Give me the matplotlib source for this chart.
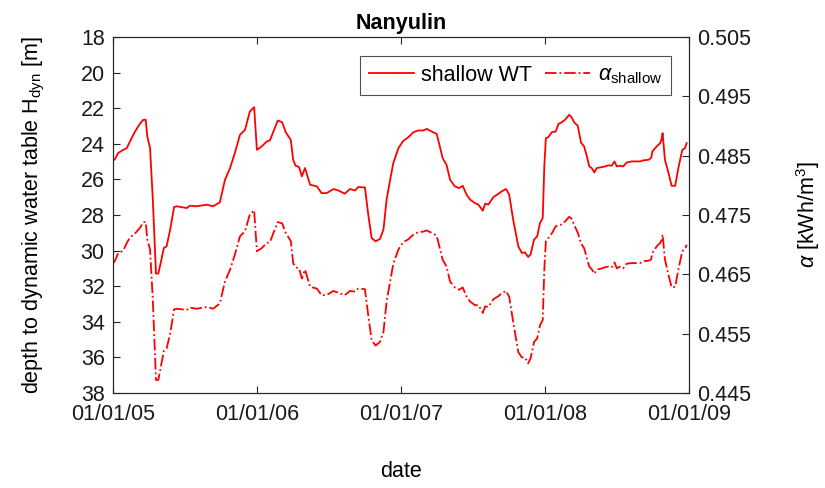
import matplotlib
matplotlib.use('Agg')
import matplotlib.pyplot as plt
import matplotlib.dates as mdates
import numpy as np
import pandas as pd

plt.rcParams['font.family'] = ['Liberation Sans', 'DejaVu Sans']
plt.rcParams['mathtext.fontset'] = 'custom'
plt.rcParams['mathtext.rm'] = 'Liberation Sans'
plt.rcParams['mathtext.it'] = 'Liberation Sans:italic'

# days since 01/01/05
days = [0, 5, 13, 26, 35, 43, 56, 68, 77, 83, 87, 94, 101, 109, 115, 121, 129, 136, 145, 155,
        162, 187, 195, 212, 238, 254, 271, 284, 297, 309, 322, 335, 347, 358, 365, 377, 390, 398,
        407, 418, 429, 438, 451, 457, 463, 472, 479, 487, 500, 517, 529, 542, 559, 571, 588, 601,
        614, 622, 639, 648, 656, 666, 677, 686, 694, 703, 711, 724, 736, 749, 762, 774, 787, 796,
        808, 821, 829, 836, 846, 855, 867, 878, 887, 897, 906, 918, 927, 938, 944, 952, 965, 977,
        986, 997, 1005, 1015, 1028, 1037, 1045, 1053, 1059, 1068, 1076, 1083, 1090, 1094, 1098,
        1104, 1113, 1123, 1130, 1138, 1148, 1157, 1163, 1170, 1179, 1187, 1195, 1202, 1208, 1214,
        1221, 1227, 1240, 1248, 1256, 1265, 1272, 1278, 1286, 1294, 1303, 1316, 1337, 1345, 1358,
        1365, 1368, 1379, 1388, 1392, 1394, 1400, 1409, 1417, 1426, 1434, 1444, 1451, 1455]

# depth to dynamic water table [m]
depth = [24.95, 24.86, 24.52, 24.34, 24.24, 23.87, 23.31, 22.88, 22.65, 22.65, 23.59, 24.24, 27.14,
         31.29, 31.29, 30.69, 29.85, 29.76, 28.82, 27.55, 27.51, 27.61, 27.48, 27.51, 27.42, 27.51,
         27.29, 26.02, 25.36, 24.52, 23.50, 23.21, 22.19, 21.94, 24.34, 24.15, 23.87, 23.81, 23.31,
         22.69, 22.79, 23.35, 23.78, 24.90, 25.23, 25.31, 25.83, 25.36, 26.30, 26.39, 26.77, 26.77,
         26.54, 26.62, 26.80, 26.54, 26.62, 26.43, 26.45, 28.07, 29.29, 29.48, 29.35, 28.82, 27.14,
         26.02, 25.08, 24.24, 23.84, 23.63, 23.35, 23.25, 23.25, 23.16, 23.31, 23.44, 24.15, 24.80,
         25.18, 26.02, 26.39, 26.49, 26.36, 26.86, 27.14, 27.33, 27.42, 27.76, 27.36, 27.42, 26.99,
         26.82, 26.67, 26.54, 26.86, 28.26, 29.76, 30.13, 30.10, 30.36, 30.22, 29.38, 29.20, 28.45,
         28.17, 25.27, 23.68, 23.63, 23.35, 23.31, 22.88, 22.80, 22.62, 22.37, 22.50, 22.80, 22.99,
         23.93, 24.15, 24.71, 25.27, 25.36, 25.61, 25.36, 25.31, 25.27, 25.21, 25.23, 24.99, 25.27,
         25.23, 25.27, 25.05, 24.99, 24.99, 24.93, 24.90, 24.80, 24.43, 24.15, 23.96, 23.68, 23.40,
         24.90, 25.64, 26.36, 26.36, 25.36, 24.34, 24.24, 23.96]

# alpha [kWh/m^3]
alpha = [0.4668, 0.4673, 0.4685, 0.4690, 0.4703, 0.4712, 0.4719, 0.4728, 0.4738, 0.4738, 0.4709,
         0.4692, 0.4607, 0.4472, 0.4472, 0.4493, 0.4521, 0.4525, 0.4550, 0.4591, 0.4592, 0.4590,
         0.4594, 0.4592, 0.4595, 0.4592, 0.4601, 0.4638, 0.4658, 0.4683, 0.4714, 0.4723, 0.4751,
         0.4758, 0.4689, 0.4694, 0.4703, 0.4704, 0.4720, 0.4738, 0.4736, 0.4720, 0.4706, 0.4669,
         0.4662, 0.4660, 0.4643, 0.4658, 0.4629, 0.4626, 0.4615, 0.4615, 0.4622, 0.4619, 0.4615,
         0.4622, 0.4621, 0.4626, 0.4625, 0.4578, 0.4539, 0.4530, 0.4536, 0.4553, 0.4604, 0.4638,
         0.4668, 0.4692, 0.4704, 0.4709, 0.4717, 0.4721, 0.4722, 0.4724, 0.4720, 0.4715, 0.4694,
         0.4675, 0.4663, 0.4638, 0.4628, 0.4624, 0.4628, 0.4612, 0.4604, 0.4598, 0.4598, 0.4585,
         0.4596, 0.4595, 0.4608, 0.4613, 0.4618, 0.4622, 0.4612, 0.4570, 0.4519, 0.4510, 0.4510,
         0.4500, 0.4508, 0.4536, 0.4542, 0.4564, 0.4573, 0.4658, 0.4706, 0.4711, 0.4719, 0.4731,
         0.4733, 0.4734, 0.4740, 0.4747, 0.4744, 0.4733, 0.4720, 0.4702, 0.4694, 0.4677, 0.4663,
         0.4659, 0.4651, 0.4658, 0.4660, 0.4662, 0.4663, 0.4662, 0.4670, 0.4660, 0.4663, 0.4660,
         0.4668, 0.4669, 0.4669, 0.4672, 0.4673, 0.4675, 0.4686, 0.4697, 0.4703, 0.4709, 0.4717,
         0.4675, 0.4649, 0.4628, 0.4629, 0.4658, 0.4689, 0.4692, 0.4700]

tick_dates = ['2005-01-01', '2006-01-01', '2007-01-01', '2008-01-01', '2009-01-01']
depth_ticks = np.arange(18, 39, 2)
alpha_ticks = [0.445, 0.455, 0.465, 0.475, 0.485, 0.495, 0.505]

dates = pd.Timestamp('2005-01-01') + pd.to_timedelta(days, unit='D')
axc = '#262626'
fs = 15.5

fig = plt.figure(figsize=(8.25, 4.88), dpi=100)
ax = fig.add_axes([113 / 825, 1 - 393 / 488, 576 / 825, 356 / 488])
ax2 = ax.twinx()

l1, = ax.plot(dates, depth, color='red', lw=1.3, label='shallow WT')
l2, = ax2.plot(dates, alpha, color='red', lw=1.3, ls='-.', label=r'$\alpha_\mathrm{shallow}$')

ax.set_ylim(38, 18)
ax.set_yticks(depth_ticks)
ax2.set_ylim(0.445, 0.505)
ax2.set_yticks(alpha_ticks)
ax2.set_yticklabels([f'{v:.3f}' for v in alpha_ticks])

xt = pd.to_datetime(tick_dates)
ax.set_xlim(xt[0], xt[-1])
ax.set_xticks(xt)
ax.xaxis.set_major_formatter(mdates.DateFormatter('%m/%d/%y'))

for a in (ax, ax2):
    for s in a.spines.values():
        s.set_color(axc)
        s.set_linewidth(0.8)
ax.tick_params(axis='both', direction='in', colors=axc, labelsize=fs, length=5, width=0.8,
               top=True, labelcolor='#1a1a1a')
ax.tick_params(axis='y', pad=6)
ax.tick_params(axis='x', pad=8)
ax2.tick_params(axis='y', direction='in', colors=axc, labelsize=fs, length=5, width=0.8,
                pad=6, labelcolor='#1a1a1a')

ax.set_title('Nanyulin', fontsize=15.5, fontweight='bold', pad=6)
ax.set_ylabel(r'depth to dynamic water table H$_\mathrm{dyn}$ [m]', fontsize=fs, labelpad=24)
ax.set_xlabel('date', fontsize=fs, labelpad=26)
ax2.set_ylabel(r'$\alpha$ [kWh/m$^3$]', fontsize=fs, rotation=90, labelpad=31)

leg = ax.legend(handles=[l1, l2], loc='upper right', bbox_to_anchor=(671 / 825, 1 - 56 / 488),
                bbox_transform=fig.transFigure, ncol=2, fontsize=fs, frameon=True, fancybox=False,
                edgecolor=axc, handlelength=2.1, columnspacing=0.6, handletextpad=0.35,
                borderpad=0.4, borderaxespad=0)
leg.get_frame().set_linewidth(0.8)

fig.savefig('out.png', dpi=100)
